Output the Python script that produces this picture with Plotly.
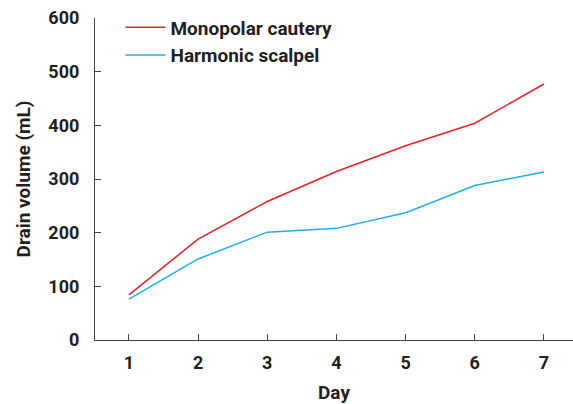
import plotly.graph_objects as go

days = [1, 2, 3, 4, 5, 6, 7]
monopolar = [84, 188, 258, 314, 362, 404, 477]
harmonic = [76, 151, 201, 208, 237, 288, 313]
y_ticks = [0, 100, 200, 300, 400, 500, 600]

LABEL_FONT = "Roboto"
TICK_FONT = "Roboto"
TXT = "#231f20"

fig = go.Figure()
fig.add_trace(go.Scatter(x=days, y=monopolar, mode="lines", name="Monopolar cautery",
                         line=dict(color="#e8202a", width=1.5)))
fig.add_trace(go.Scatter(x=days, y=harmonic, mode="lines", name="Harmonic scalpel",
                         line=dict(color="#1ab0e8", width=1.5)))

fig.update_layout(
    width=573, height=404,
    margin=dict(l=95, r=0, t=18, b=64),
    paper_bgcolor="white", plot_bgcolor="white",
    font=dict(family=LABEL_FONT, color=TXT, size=15),
    showlegend=True,
    legend=dict(x=0.0533, y=1.03, xanchor="left", yanchor="top",
                font=dict(family=LABEL_FONT, size=19, color=TXT, weight="bold"),
                bgcolor="rgba(0,0,0,0)", tracegroupgap=0, itemwidth=40),
)
fig.update_xaxes(
    range=[0.51, 7.42], tickvals=days, ticks="inside", ticklen=6, tickwidth=1.2,
    tickcolor="#444", showline=True, linecolor="#444", linewidth=1.2,
    showgrid=False, zeroline=False, automargin=True, ticklabelstandoff=6,
    tickfont=dict(family=TICK_FONT, size=18, color=TXT, weight="bold"),
    title=dict(text="Day", font=dict(family=LABEL_FONT, size=19, color=TXT, weight="bold"), standoff=14),
)
fig.update_yaxes(
    range=[0, 600], tickvals=y_ticks, ticks="inside", ticklen=6, tickwidth=1.2,
    tickcolor="#444", showline=True, linecolor="#444", linewidth=1.2,
    showgrid=False, zeroline=False, automargin=True, ticklabelstandoff=11,
    tickfont=dict(family=TICK_FONT, size=18, color=TXT, weight="bold"),
    title=dict(text="Drain volume (mL)", font=dict(family=LABEL_FONT, size=19, color=TXT, weight="bold"), standoff=12),
)
fig.write_html("out.html", config={"displayModeBar": False},
               post_script="document.body.style.margin='0';document.body.style.overflow='hidden';")
